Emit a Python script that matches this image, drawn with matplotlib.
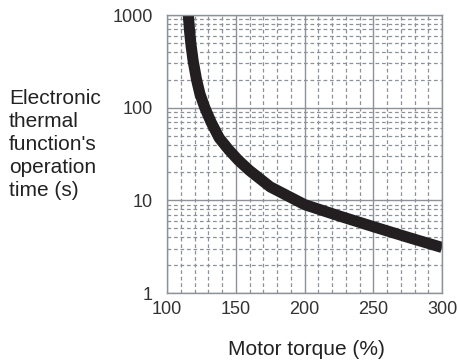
import matplotlib
matplotlib.use("Agg")
import matplotlib.pyplot as plt
from matplotlib.ticker import MultipleLocator, LogLocator, NullFormatter, FixedLocator

torque = [115.5, 116.5, 117.5, 119, 121.5, 124, 127.5, 132, 138, 145, 152, 160, 175, 200, 225, 250, 275, 300]
op_time = [1000, 650, 470, 320, 200, 140, 100, 70, 47, 35, 27, 21, 14, 9, 6.8, 5.2, 4.0, 3.1]
x_ticks = [100, 150, 200, 250, 300]
y_ticks = [1, 10, 100, 1000]
y_tick_labels = ["1", "10", "100", "1000"]

plt.rcParams['font.family'] = ['Liberation Sans', 'DejaVu Sans']

fig = plt.figure(figsize=(4.58, 3.6), dpi=100)
ax = fig.add_axes([167/458, 1-293/360, 275/458, (293-15)/360])

ax.set_yscale('log')
ax.set_xlim(100, 300)
ax.set_ylim(1, 1000)

ax.xaxis.set_major_locator(FixedLocator(x_ticks))
ax.xaxis.set_minor_locator(MultipleLocator(10))
ax.yaxis.set_major_locator(FixedLocator(y_ticks))
ax.set_yticklabels(y_tick_labels)
ax.yaxis.set_minor_locator(LogLocator(base=10, subs=range(2, 10)))
ax.yaxis.set_minor_formatter(NullFormatter())

gcol = '#8c9298'
ax.grid(which='major', color=gcol, linewidth=1.0, linestyle='-')
ax.grid(which='minor', color=gcol, linewidth=0.9, linestyle=(0, (3.0, 2.2)))
ax.set_axisbelow(True)
for s in ax.spines.values():
    s.set_color(gcol)
    s.set_linewidth(1.0)

ax.tick_params(which='both', length=0)
ax.tick_params(axis='y', pad=10, labelsize=13, labelcolor='#333333')
ax.tick_params(axis='x', pad=6, labelsize=13, labelcolor='#333333')

ax.plot(torque, op_time, color='#231f20', linewidth=8, solid_capstyle='butt')

fig.text(9/458, 1-89.5/360, "Electronic\nthermal\nfunction's\noperation\ntime (s)",
         ha='left', va='top', fontsize=15, linespacing=1.26, color='#222222')
fig.text(306/458, 1-355/360, "Motor torque (%)", ha='center', va='baseline',
         fontsize=15, color='#222222')

fig.savefig("out.png", dpi=100)
